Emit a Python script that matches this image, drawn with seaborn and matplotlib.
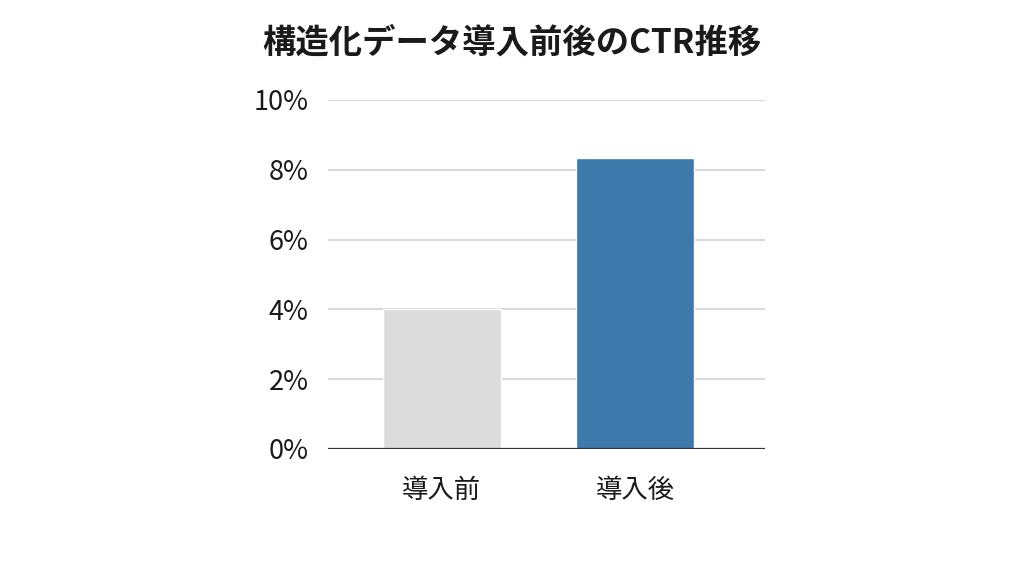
import matplotlib
matplotlib.use("Agg")
import matplotlib.pyplot as plt
import pandas as pd
import seaborn as sns

# data
CATEGORIES = ["導入前", "導入後"]
CTR_PCT    = [4.0, 8.35]
BAR_COLORS = ["#dcdcdc", "#3d79ab"]
Y_TICKS    = [0, 2, 4, 6, 8, 10]
TITLE      = "構造化データ導入前後のCTR推移"

TEXT = "#1a1a1a"

sns.set_theme(style="white")
plt.rcParams["font.family"] = ["Noto Sans CJK JP", "DejaVu Sans"]

df = pd.DataFrame({"phase": CATEGORIES, "ctr": CTR_PCT})

fig = plt.figure(figsize=(10.24, 5.76), dpi=100, facecolor="white")
ax = fig.add_axes([0.3203, 0.2205, 0.4268, 0.6059])

sns.barplot(data=df, x="phase", y="ctr", hue="phase", palette=BAR_COLORS,
            width=0.61, legend=False, saturation=1, ax=ax, zorder=3)

ax.set_xlim(-0.587, 1.672)
ax.set_ylim(0, 10)
ax.set_yticks(Y_TICKS)
ax.set_yticklabels([f"{v}%" for v in Y_TICKS])
for v in Y_TICKS[1:]:
    ax.axhline(v, color="#d9d9d9", linewidth=1.5, zorder=1)
ax.axhline(0, color="#333333", linewidth=1.6, zorder=4)

for s in ax.spines.values():
    s.set_visible(False)
ax.tick_params(axis="y", length=0, pad=14, labelsize=19.5, labelcolor=TEXT)
ax.tick_params(axis="x", length=0, pad=20, labelsize=19, labelcolor=TEXT)
ax.set_xlabel("")
ax.set_ylabel("")

fig.text(0.5, 0.925, TITLE, ha="center", va="center",
         fontsize=24, fontweight="bold", color=TEXT)

fig.savefig("out.png", dpi=100, facecolor="white")
